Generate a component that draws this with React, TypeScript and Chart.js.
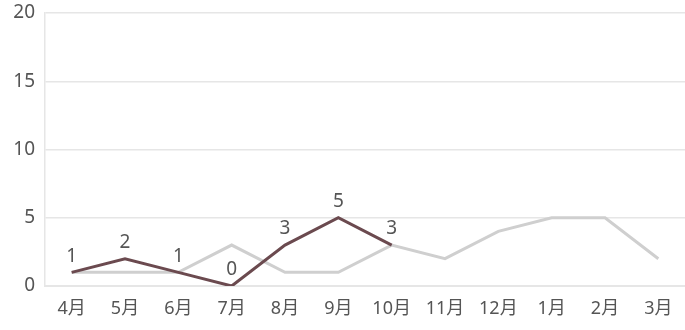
import React, { useEffect, useRef } from "react";
import { Chart, registerables } from "chart.js";

Chart.register(...registerables);

const months = ["4月", "5月", "6月", "7月", "8月", "9月", "10月", "11月", "12月", "1月", "2月", "3月"];
const currentYear = [1, 2, 1, 0, 3, 5, 3];
const previousYear = [1, 1, 1, 3, 1, 1, 3, 2, 4, 5, 5, 2];
const yTicks = [0, 5, 10, 15, 20];

const FONT = '"Noto Sans", "Noto Sans CJK JP", sans-serif';

const labelPlugin = {
  id: "valueLabels",
  afterDatasetsDraw(chart: any) {
    const ctx = chart.ctx;
    const meta = chart.getDatasetMeta(0);
    const data = chart.data.datasets[0].data;
    ctx.save();
    ctx.font = `19px ${FONT}`;
    ctx.fillStyle = "#555555";
    ctx.textAlign = "center";
    ctx.textBaseline = "middle";
    meta.data.forEach((pt: any, i: number) => {
      ctx.fillText(String(data[i]), pt.x, pt.y - 16);
    });
    ctx.restore();
  },
};

export default function App() {
  const ref = useRef<HTMLCanvasElement>(null);
  useEffect(() => {
    if (!ref.current) return;
    const chart = new Chart(ref.current, {
      type: "line",
      data: {
        labels: months,
        datasets: [
          {
            data: currentYear,
            borderColor: "#6b4a4f",
            borderWidth: 3,
            pointRadius: 0,
            tension: 0,
            fill: false,
          },
          {
            data: previousYear,
            borderColor: "#cfcfcf",
            borderWidth: 3,
            pointRadius: 0,
            tension: 0,
            fill: false,
          },
        ],
      },
      options: {
        animation: false,
        responsive: true,
        maintainAspectRatio: false,
        layout: { padding: { top: 13, right: 0, left: 0, bottom: 0 } },
        plugins: { legend: { display: false }, tooltip: { enabled: false } },
        scales: {
          x: {
            offset: true,
            grid: { display: false, drawTicks: false, offset: true },
            border: { display: true, color: "#e6e6e6", width: 2 },
            ticks: {
              color: "#555555",
              font: { family: FONT, size: 18 },
              padding: 12,
              maxRotation: 0,
              autoSkip: false,
            },
            afterFit: (s: any) => {
              s.height = 44;
              s.paddingLeft = 0;
              s.paddingRight = 0;
            },
          },
          y: {
            min: 0,
            max: 20,
            afterBuildTicks: (s: any) => {
              s.ticks = yTicks.map((v) => ({ value: v }));
            },
            grid: { color: "#e6e6e6", lineWidth: 1.5, drawTicks: false },
            border: { display: true, color: "#e6e6e6", width: 1.5 },
            ticks: {
              color: "#555555",
              font: { family: FONT, size: 19 },
              padding: 10,
            },
            afterFit: (s: any) => {
              s.width = 45;
              s.paddingTop = 0;
              s.paddingBottom = 0;
            },
          },
        },
      },
      plugins: [labelPlugin],
    });
    return () => chart.destroy();
  }, []);
  return (
    <div style={{ position: "absolute", left: 0, top: 0, width: 685, height: 330 }}>
      <canvas ref={ref} />
    </div>
  );
}
